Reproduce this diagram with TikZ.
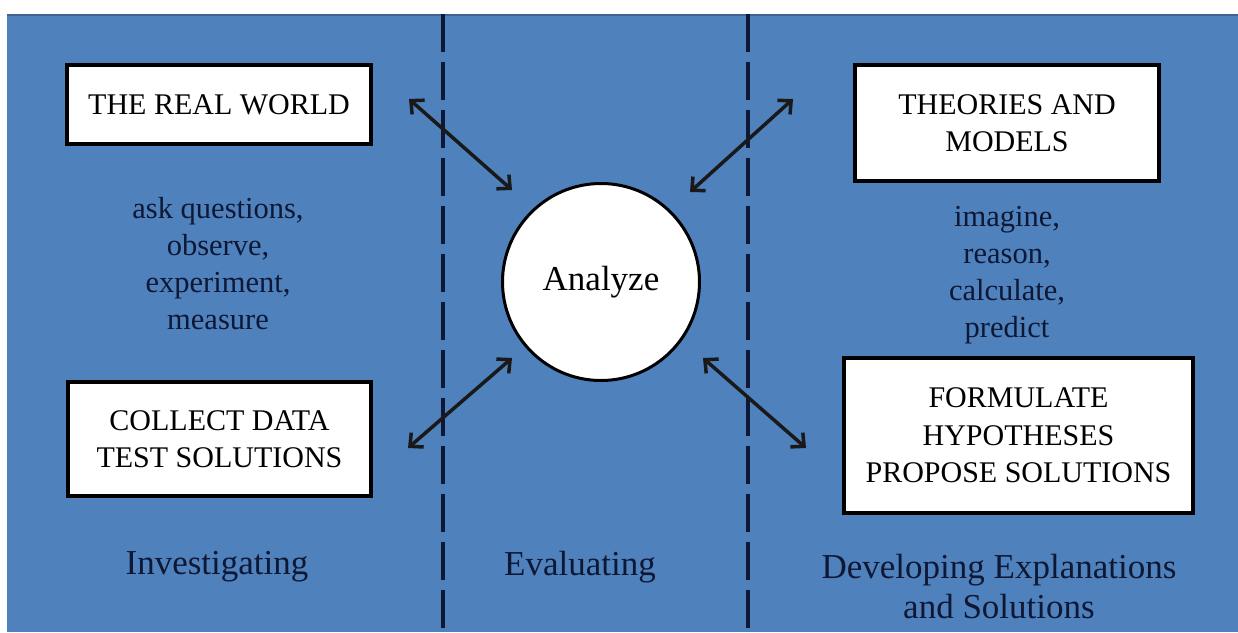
\documentclass[tikz,border=0pt]{standalone}
\usepackage{fontspec}
\setmainfont{Liberation Serif}
\usetikzlibrary{arrows.meta}
\definecolor{bg}{RGB}{79,129,189}
\definecolor{topedge}{RGB}{62,98,148}
\definecolor{ink}{RGB}{14,24,52}
\tikzset{
  box/.style={draw=black, fill=white, line width=4pt, align=center,
    font=\fontsize{30}{37.5}\selectfont, inner sep=0pt},
  note/.style={text=ink, align=center, font=\fontsize{30.5}{37}\selectfont},
  phase/.style={text=ink, align=center, font=\fontsize{35}{40}\selectfont},
  divider/.style={draw=ink, line width=4pt, dash pattern=on 38pt off 10pt},
  link/.style={draw=black!90, line width=3.5pt,
    {Straight Barb[length=10pt,width=19pt]}-{Straight Barb[length=10pt,width=19pt]}}
}
\begin{document}
\begin{tikzpicture}[x=1pt,y=-1pt]
\useasboundingbox (0,0) rectangle (1238,632);
\fill[white] (0,0) rectangle (1238,632);
\fill[bg] (7,14) rectangle (1238,632);
\draw[topedge, line width=2pt] (7,15) -- (1238,15);

% dividers
\coordinate (d1t) at (443,14);
\coordinate (d1b) at (443,632);
\coordinate (d2t) at (748,14);
\coordinate (d2b) at (748,632);
\draw[divider] (d1t) -- (d1b);
\draw[divider] (d2t) -- (d2b);

% nodes
\node[box, minimum width=304pt, minimum height=79pt] (real) at (219,104.5) {THE REAL WORLD};
\node[box, minimum width=304pt, minimum height=116pt] (theory) at (1007,123) {THEORIES AND\\MODELS};
\node[box, minimum width=303pt, minimum height=114pt] (collect) at (219.5,439) {COLLECT DATA\\TEST SOLUTIONS};
\node[box, minimum width=349pt, minimum height=155pt] (formulate) at (1018.5,435.5) {FORMULATE\\HYPOTHESES\\PROPOSE SOLUTIONS};
\node[draw=black, fill=white, circle, line width=3pt, minimum size=197pt, inner sep=0pt,
      font=\fontsize{35}{40}\selectfont] (analyze) at (601,282) {Analyze};

\node[note] (ask) at (218,264) {ask questions,\\observe,\\experiment,\\measure};
\node[note] (imag) at (1007,275) {imagine,\\reason,\\calculate,\\predict};

\node[phase] (inv) at (217,567) {Investigating};
\node[phase] (eval) at (580,567) {Evaluating};
\node[phase] (dev) at (999,587) {Developing Explanations\\and Solutions};

% connectors
\coordinate (rw) at (409,99);  \coordinate (an1) at (512,190);
\coordinate (tm) at (793,99);  \coordinate (an2) at (690,192);
\coordinate (cd) at (408,448); \coordinate (an3) at (512,358);
\coordinate (fh) at (806,448); \coordinate (an4) at (703,358);
\draw[link] (rw) -- (an1);
\draw[link] (tm) -- (an2);
\draw[link] (cd) -- (an3);
\draw[link] (fh) -- (an4);
\end{tikzpicture}
\end{document}
